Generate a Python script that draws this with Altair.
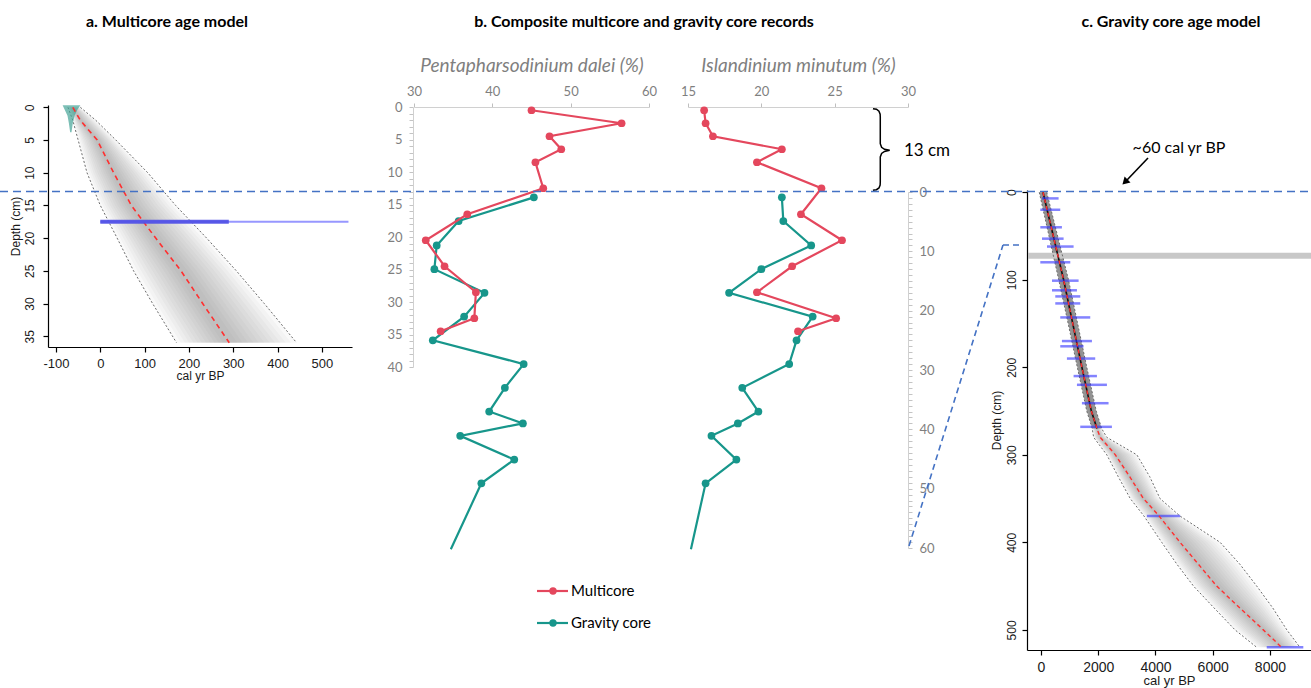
import altair as alt
import pandas as pd

W, H = 1311, 688
CAL = "Lato"
ARIAL = "Liberation Sans"
RED = "#E4475D"
TEAL = "#17968B"
BLUE = "#4472C4"
GREY_TXT = "#7f7f7f"

titles = ["a. Multicore age model",
          "b. Composite multicore and gravity core records",
          "c. Gravity core age model"]
series_names = ["Multicore", "Gravity core"]

# ---------------- panel a: multicore age model ----------------
a_depth = [0, 2, 5, 10, 15, 20, 25, 30, 36]
a_median = [-62, -45, -7, 30, 70, 125, 182, 231, 291]
a_lower = [-73, -62, -50, -30, 0, 38, 75, 118, 172]
a_upper = [-45, -10, 35, 107, 170, 240, 307, 370, 443]
a_pb_depth = [-0.3, 0.4, 1.3, 2.4, 3.8]
a_pb_lo = [-85, -80, -74, -71, -68]
a_pb_hi = [-45, -52, -58, -62, -65]
a_date_depth = [17.5]
a_date_lo = [0]
a_date_core_hi = [290]
a_date_tail_hi = [560]

# ---------------- panel b: composite records ----------------
mc_depth = [0.5, 2.5, 4.5, 6.5, 8.5, 12.5, 16.5, 20.5, 24.5, 28.5, 32.5, 34.5]
mc_dalei = [45.0, 56.5, 47.3, 48.8, 45.5, 46.5, 36.8, 31.5, 33.9, 37.9, 37.7, 33.4]
mc_minutum = [16.1, 16.2, 16.7, 21.4, 19.7, 24.1, 22.7, 25.5, 22.1, 19.7, 25.1, 22.5]
gc_depth = [0.9, 4.9, 9.0, 13.0, 17.0, 21.0, 25.0, 29.0, 33.0, 37.0, 39.0, 41.1, 45.1, 49.1, 60.2]
gc_dalei = [45.3, 35.7, 32.9, 32.6, 39.0, 36.4, 32.4, 44.0, 41.6, 39.6, 43.9, 35.9, 42.8, 38.6, 34.7]
gc_minutum = [21.4, 21.5, 23.4, 20.0, 17.8, 23.5, 22.4, 21.9, 18.7, 19.8, 18.4, 16.6, 18.3, 16.2, 15.2]
gc_marker = [1] * 14 + [0]
join_depth = [13]
brace_x = [27.61, 27.85, 28.02, 28.10, 28.11, 28.11, 28.2, 28.4, 28.75, 28.4, 28.2, 28.11, 28.11, 28.10, 28.02, 27.85, 27.61]
brace_y = [0.26, 0.35, 0.65, 1.1, 1.54, 5.64, 6.2, 6.5, 6.67, 6.84, 7.14, 7.69, 11.54, 12.0, 12.45, 12.72, 12.82]

# ---------------- panel c: gravity core age model ----------------
c_depth = [0, 50, 100, 150, 200, 250, 270, 280, 300, 325, 350, 370, 400, 425, 450, 475, 500, 520]
c_median = [70, 430, 790, 1110, 1430, 1760, 1955, 2070, 2600, 3100, 3580, 4130, 4860, 5500, 6140, 6950, 7770, 8410]
c_lower = [-60, 280, 620, 950, 1270, 1600, 1790, 1840, 2300, 2700, 3120, 3600, 4220, 4750, 5330, 6050, 6780, 7540]
c_upper = [200, 580, 960, 1280, 1600, 1930, 2120, 2300, 3350, 3800, 4160, 4860, 6260, 6950, 7540, 8100, 8590, 9050]
c_date_depth = [7, 20, 40, 53, 62, 80, 101, 112, 119, 127, 143, 170, 176, 190, 210, 220, 241, 268, 370, 520]
c_date_lo = [35, -24, -24, 35, 209, -24, 384, 384, 499, 499, 673, 731, 673, 906, 1139, 1256, 1430, 1372, 3700, 7888]
c_date_hi = [615, 673, 731, 790, 1139, 1023, 1314, 1256, 1372, 1372, 1721, 1780, 1488, 1895, 1955, 2304, 2361, 2478, 4862, 9166]
c_hiatus_depth = [72.5]


def lin(d, r):
    return alt.Scale(domain=d, range=r, nice=False, zero=False)


AX = lin([-118, 568], [48, 352])
AY = lin([-0.35, 36.65], [105, 347])
B1X = lin([30, 60], [414, 649])
B2X = lin([15, 30], [688, 908])
MCY = lin([0, 40], [107, 367])
GCY = lin([0, 60], [192, 548])
CX = lin([-489, 9435], [1027, 1311])
CY = lin([-2.6, 523], [190, 650])

PLAIN = "'' + datum.value"
R_AX = dict(grid=False, domainColor="#000000", tickColor="#000000", labelColor="#1a1a1a",
            labelFont=ARIAL, titleFont=ARIAL, titleFontWeight="normal", titleColor="#1a1a1a",
            tickSize=5, labelFlush=False, labelOverlap=False, domainWidth=1.2, tickWidth=1.2,
            labelExpr=PLAIN)
axis_ax = alt.Axis(orient="bottom", offset=-(H - 347), values=[-100, 0, 100, 200, 300, 400, 500],
                   title="cal yr BP", labelFontSize=13, titleFontSize=12, labelPadding=5,
                   titlePadding=0, **R_AX)
axis_ay = alt.Axis(orient="left", offset=-48, values=list(range(0, 36, 5)), title="Depth (cm)",
                   labelAngle=-90, labelAlign="center", labelBaseline="bottom", labelFontSize=12,
                   titleFontSize=12, labelPadding=7, titlePadding=1, **R_AX)
axis_cx = alt.Axis(orient="bottom", offset=-(H - 650), values=[0, 2000, 4000, 6000, 8000],
                   title="cal yr BP", labelFontSize=14, titleFontSize=13, labelPadding=5,
                   titlePadding=0, **R_AX)
axis_cy = alt.Axis(orient="left", offset=-1027, values=[0, 100, 200, 300, 400, 500], title="Depth (cm)",
                   labelAngle=-90, labelAlign="center", labelBaseline="bottom", labelFontSize=12,
                   titleFontSize=12, labelPadding=4, titlePadding=2, **R_AX)

X_AX = dict(grid=False, domainColor="#d0d0d0", tickColor="#bfbfbf", labelColor=GREY_TXT,
            labelFont=CAL, labelFontSize=13, titleFont=CAL, titleFontSize=19, titleFontStyle="italic",
            titleFontWeight="normal", titleColor=GREY_TXT, tickSize=4, labelFlush=False,
            labelOverlap=False, labelPadding=5, titlePadding=10)
axis_b1x = alt.Axis(orient="top", offset=-107, values=[30, 40, 50, 60],
                    title="Pentapharsodinium dalei (%)", **X_AX)
axis_b2x = alt.Axis(orient="top", offset=-107, values=[15, 20, 25, 30],
                    title="Islandinium minutum (%)", **X_AX)
Y_AX = dict(grid=False, domainColor="#d0d0d0", tickColor="#c4c4c4", labelColor=GREY_TXT,
            labelFont=CAL, labelFontSize=13, tickSize=4, labelOverlap=False, labelFlush=False,
            labelPadding=7, title="")
axis_mcy = alt.Axis(orient="left", offset=-413, values=list(range(0, 41)),
                    labelExpr="datum.value % 5 === 0 ? datum.label : ''", **Y_AX)
axis_gcy = alt.Axis(orient="right", offset=-(W - 908), values=list(range(0, 61)),
                    labelExpr="datum.value % 10 === 0 ? datum.label : ''", **Y_AX)


def band_rows(depths, med, lo, hi, fracs):
    rows = []
    for k, f in enumerate(fracs):
        for d, m, l, u in zip(depths, med, lo, hi):
            rows.append({"band": k, "depth": d, "lo": m - f * (m - l), "hi": m + f * (u - m)})
    return pd.DataFrame(rows)


fracs = [1.0, 0.92, 0.84, 0.76, 0.68, 0.6, 0.52, 0.44, 0.36, 0.28, 0.2, 0.12]
BAND_OP = 0.036
layers = []

# ---------- panel a ----------
a_df = pd.DataFrame({"depth": a_depth, "median": a_median, "lower": a_lower, "upper": a_upper})
layers.append(
    alt.Chart(band_rows(a_depth, a_median, a_lower, a_upper, fracs))
    .mark_area(orient="horizontal", color="#5e5e5e", opacity=BAND_OP)
    .encode(y=alt.Y("depth:Q", scale=AY, axis=axis_ay),
            x=alt.X("lo:Q", scale=AX, axis=axis_ax), x2="hi:Q", detail="band:N")
)
layers.append(
    alt.Chart(a_df).transform_fold(["lower", "upper"], as_=["bound", "val"])
    .mark_line(color="#6b6b6b", strokeDash=[2, 2], strokeWidth=1)
    .encode(y=alt.Y("depth:Q", scale=AY, axis=None), x=alt.X("val:Q", scale=AX, axis=None),
            detail="bound:N", order="depth:Q")
)
layers.append(
    alt.Chart(pd.DataFrame({"depth": a_pb_depth, "lo": a_pb_lo, "hi": a_pb_hi}))
    .mark_area(orient="horizontal", color="#45a497", opacity=0.7)
    .encode(y=alt.Y("depth:Q", scale=AY, axis=None), x=alt.X("lo:Q", scale=AX, axis=None), x2="hi:Q")
)
layers.append(
    alt.Chart(a_df).mark_line(color="#ff2f2f", strokeDash=[5, 4], strokeWidth=1.6)
    .encode(y=alt.Y("depth:Q", scale=AY, axis=None), x=alt.X("median:Q", scale=AX, axis=None),
            order="depth:Q")
)
a_dates = pd.DataFrame({"depth": a_date_depth, "lo": a_date_lo, "core": a_date_core_hi,
                        "tail": a_date_tail_hi})
layers.append(
    alt.Chart(a_dates).mark_rule(color="#8c8cff", strokeWidth=2, opacity=0.9)
    .encode(y=alt.Y("depth:Q", scale=AY, axis=None), x=alt.X("lo:Q", scale=AX, axis=None), x2="tail:Q")
)
layers.append(
    alt.Chart(a_dates).mark_rule(color="#4f4fe6", strokeWidth=4, opacity=0.9)
    .encode(y=alt.Y("depth:Q", scale=AY, axis=None), x=alt.X("lo:Q", scale=AX, axis=None), x2="core:Q")
)

# ---------- panel b ----------
mc = pd.DataFrame({"depth": mc_depth, "dalei": mc_dalei, "minutum": mc_minutum})
gc = pd.DataFrame({"depth": gc_depth, "dalei": gc_dalei, "minutum": gc_minutum, "marker": gc_marker})


def series(df, xcol, xs, ys, color, xaxis=None, yaxis=None):
    line = alt.Chart(df).mark_line(color=color, strokeWidth=2.2).encode(
        x=alt.X(f"{xcol}:Q", scale=xs, axis=xaxis), y=alt.Y("depth:Q", scale=ys, axis=yaxis),
        order="depth:Q")
    base = alt.Chart(df)
    if "marker" in df.columns:
        base = base.transform_filter("datum.marker == 1")
    pts = base.mark_circle(color=color, size=60, opacity=1).encode(
        x=alt.X(f"{xcol}:Q", scale=xs, axis=None), y=alt.Y("depth:Q", scale=ys, axis=None))
    return [line, pts]


layers += series(gc, "dalei", B1X, GCY, TEAL)
layers += series(mc, "dalei", B1X, MCY, RED, xaxis=axis_b1x, yaxis=axis_mcy)
layers += series(gc, "minutum", B2X, GCY, TEAL, yaxis=axis_gcy)
layers += series(mc, "minutum", B2X, MCY, RED, xaxis=axis_b2x)

layers.append(
    alt.Chart(pd.DataFrame({"bx": brace_x, "by": brace_y, "i": list(range(len(brace_x)))}))
    .mark_line(color="#000000", strokeWidth=1.5)
    .encode(x=alt.X("bx:Q", scale=B2X, axis=None), y=alt.Y("by:Q", scale=MCY, axis=None), order="i:Q")
)
layers.append(
    alt.Chart(pd.DataFrame({"t": ["13 cm"]})).mark_text(font=CAL, fontSize=17, color="#000000",
                                                         align="center", baseline="middle")
    .encode(text="t:N", x=alt.value(927), y=alt.value(151))
)

# blue dashed junction line (multicore 13 cm = gravity core 0 cm)
layers.append(
    alt.Chart(pd.DataFrame({"d": join_depth})).mark_rule(color=BLUE, strokeDash=[8, 5], strokeWidth=1.6)
    .encode(y=alt.Y("d:Q", scale=MCY, axis=None), x=alt.value(0), x2=alt.value(W))
)
# connector between the gravity core depth axis and panel c
layers.append(
    alt.Chart(pd.DataFrame({"k": [1]})).mark_rule(color=BLUE, strokeDash=[6, 4], strokeWidth=1.6)
    .encode(x=alt.value(909), y=alt.value(546), x2=alt.value(1003), y2=alt.value(245))
)
layers.append(
    alt.Chart(pd.DataFrame({"k": [1]})).mark_rule(color=BLUE, strokeDash=[6, 4], strokeWidth=1.6)
    .encode(x=alt.value(1003), x2=alt.value(1023), y=alt.value(245))
)

# ---------- panel c ----------
c_df = pd.DataFrame({"depth": c_depth, "median": c_median, "lower": c_lower, "upper": c_upper})
layers.append(
    alt.Chart(band_rows(c_depth, c_median, c_lower, c_upper, fracs))
    .mark_area(orient="horizontal", color="#5e5e5e", opacity=BAND_OP)
    .encode(y=alt.Y("depth:Q", scale=CY, axis=axis_cy),
            x=alt.X("lo:Q", scale=CX, axis=axis_cx), x2="hi:Q", detail="band:N")
)
layers.append(
    alt.Chart(c_df).transform_filter("datum.depth <= 270")
    .mark_area(orient="horizontal", color="#7a7a7a", opacity=0.75)
    .encode(y=alt.Y("depth:Q", scale=CY, axis=None), x=alt.X("lower:Q", scale=CX, axis=None),
            x2="upper:Q")
)
layers.append(
    alt.Chart(pd.DataFrame({"d": c_hiatus_depth})).mark_rule(color="#c8c8c8", strokeWidth=6)
    .encode(y=alt.Y("d:Q", scale=CY, axis=None), x=alt.value(1028), x2=alt.value(W))
)
layers.append(
    alt.Chart(c_df).transform_fold(["lower", "upper"], as_=["bound", "val"])
    .mark_line(color="#6b6b6b", strokeDash=[2, 2], strokeWidth=1)
    .encode(y=alt.Y("depth:Q", scale=CY, axis=None), x=alt.X("val:Q", scale=CX, axis=None),
            detail="bound:N", order="depth:Q")
)
layers.append(
    alt.Chart(c_df).transform_filter("datum.depth <= 270")
    .mark_line(color="#111111", strokeWidth=1.6)
    .encode(y=alt.Y("depth:Q", scale=CY, axis=None), x=alt.X("median:Q", scale=CX, axis=None),
            order="depth:Q")
)
layers.append(
    alt.Chart(pd.DataFrame({"depth": c_date_depth, "lo": c_date_lo, "hi": c_date_hi}))
    .mark_rule(color="#3030ff", strokeWidth=2.5, opacity=0.6)
    .encode(y=alt.Y("depth:Q", scale=CY, axis=None), x=alt.X("lo:Q", scale=CX, axis=None), x2="hi:Q")
)
layers.append(
    alt.Chart(c_df).mark_line(color="#ff2f2f", strokeDash=[4, 3], strokeWidth=1.4)
    .encode(y=alt.Y("depth:Q", scale=CY, axis=None), x=alt.X("median:Q", scale=CX, axis=None),
            order="depth:Q")
)
# "~60 cal yr BP" annotation with arrow
layers.append(
    alt.Chart(pd.DataFrame({"t": ["~60 cal yr BP"]})).mark_text(font=CAL, fontSize=16, color="#000000",
                                                                 align="center", baseline="middle")
    .encode(text="t:N", x=alt.value(1179), y=alt.value(148))
)
layers.append(
    alt.Chart(pd.DataFrame({"k": [1]})).mark_rule(color="#000000", strokeWidth=1.6)
    .encode(x=alt.value(1148), y=alt.value(158), x2=alt.value(1127), y2=alt.value(180))
)
layers.append(
    alt.Chart(pd.DataFrame({"k": [1]})).mark_point(shape="triangle-up", filled=True, color="#000000",
                                                    size=70, angle=225, opacity=1)
    .encode(x=alt.value(1125), y=alt.value(182))
)

# ---------- titles ----------
for t, xpos in zip(titles, [167, 644, 1171]):
    layers.append(
        alt.Chart(pd.DataFrame({"t": [t]})).mark_text(font=CAL, fontSize=16, fontWeight="bold",
                                                       color="#000000", align="center", baseline="middle")
        .encode(text="t:N", x=alt.value(xpos), y=alt.value(22))
    )

# ---------- legend ----------
leg = pd.DataFrame({"series": series_names})
LEGY = alt.Scale(type="point", domain=series_names, range=[591, 623], padding=0)
COL = alt.Scale(domain=series_names, range=[RED, TEAL])
layers.append(
    alt.Chart(leg).mark_rule(strokeWidth=2.2)
    .encode(y=alt.Y("series:N", scale=LEGY, axis=None), x=alt.value(537), x2=alt.value(568),
            color=alt.Color("series:N", scale=COL, legend=None))
)
layers.append(
    alt.Chart(leg).mark_circle(size=55, opacity=1)
    .encode(y=alt.Y("series:N", scale=LEGY, axis=None), x=alt.value(553),
            color=alt.Color("series:N", scale=COL, legend=None))
)
layers.append(
    alt.Chart(leg).mark_text(font=CAL, fontSize=15, color="#000000", align="left", baseline="middle")
    .encode(y=alt.Y("series:N", scale=LEGY, axis=None), x=alt.value(571), text="series:N")
)

chart = (
    alt.layer(*layers)
    .resolve_scale(x="independent", y="independent")
    .properties(width=W, height=H, autosize=alt.AutoSizeParams(type="none"), padding=0,
                background="white")
    .configure_view(stroke=None)
)

chart.save("out.html", embed_options={"renderer": "svg", "actions": False})
